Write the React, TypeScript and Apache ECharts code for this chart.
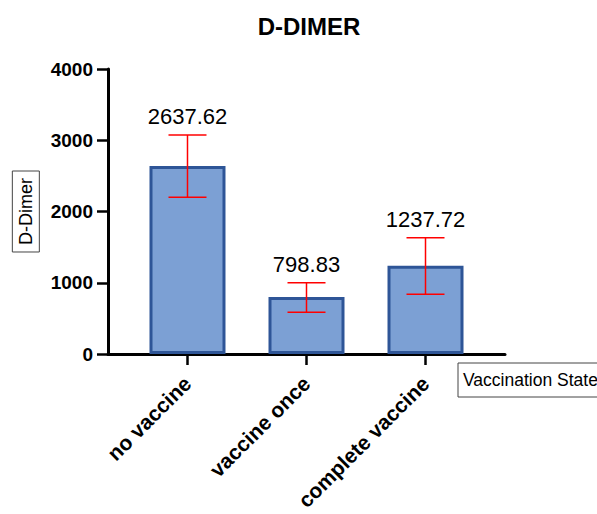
import React, { useEffect, useRef } from "react";
import * as echarts from "echarts";

const categories = ["no vaccine", "vaccine once", "complete vaccine"];
const means = [2637.62, 798.83, 1237.72];
const errLow = [2199, 585, 838];
const errHigh = [3074, 1001, 1632];
const meanLabels = ["2637.62", "798.83", "1237.72"];
const yTicks = { min: 0, max: 4000, interval: 1000 };

const FONT = "'Liberation Sans', Arial, sans-serif";

export default function App() {
  const ref = useRef<HTMLDivElement>(null);
  useEffect(() => {
    if (!ref.current) return;
    document.body.style.margin = "0";
    const chart = echarts.init(ref.current, null, { renderer: "svg" });
    const barData = means.map((m, i) => [i, m]);
    const errData = means.map((m, i) => [i, errLow[i], errHigh[i], m]);
    chart.setOption({
      animation: false,
      textStyle: { fontFamily: FONT },
      title: {
        text: "D-DIMER",
        left: 304,
        top: 9,
        textAlign: "center",
        textStyle: { fontSize: 24, fontWeight: "bold", color: "#000", fontFamily: FONT },
      },
      grid: { left: 108, right: 92, top: 69, bottom: 160, containLabel: false },
      xAxis: {
        type: "value",
        min: -0.668,
        max: 2.668,
        splitLine: { show: false },
        axisLine: { show: true, onZero: false, lineStyle: { color: "#000", width: 3 } },
        axisTick: { show: true, customValues: [0, 1, 2], length: 11, lineStyle: { color: "#000", width: 2.5 } },
        axisLabel: {
          customValues: [0, 1, 2],
          formatter: (v: number) => categories[Math.round(v)] ?? "",
          rotate: 45,
          margin: 26,
          fontSize: 21,
          fontWeight: "bold",
          color: "#000",
          fontFamily: FONT,
        },
      },
      yAxis: {
        type: "value",
        min: yTicks.min,
        max: yTicks.max,
        interval: yTicks.interval,
        name: "D-Dimer",
        nameLocation: "middle",
        nameRotate: 90,
        nameGap: 65,
        nameTextStyle: {
          fontSize: 18,
          color: "#000",
          fontFamily: FONT,
          borderColor: "#444",
          borderWidth: 1,
          padding: [5, 7, 4, 7],
        },
        splitLine: { show: false },
        axisLine: { show: true, onZero: false, lineStyle: { color: "#000", width: 3 } },
        axisTick: { show: true, length: 11, lineStyle: { color: "#000", width: 2.5 } },
        axisLabel: {
          margin: 15,
          fontSize: 19,
          fontWeight: "bold",
          color: "#000",
          fontFamily: FONT,
          formatter: (v: number) => String(v),
        },
      },
      graphic: [
        {
          type: "group",
          children: [
            {
              type: "rect",
              shape: { x: 458, y: 363, width: 160, height: 34 },
              style: { fill: "#fff", stroke: "#444", lineWidth: 1 },
            },
            {
              type: "text",
              x: 463,
              y: 380,
              style: {
                text: "Vaccination State",
                fontSize: 17.5,
                fontFamily: FONT,
                fill: "#000",
                verticalAlign: "middle",
                align: "left",
              },
            },
          ],
        },
      ],
      series: [
        {
          type: "bar",
          data: barData,
          barWidth: 76,
          itemStyle: { color: "#7CA0D4", borderColor: "#2E5597", borderWidth: 3 },
          z: 2,
        },
        {
          type: "custom",
          data: errData,
          z: 5,
          renderItem: (params: any, api: any) => {
            const x = api.value(0);
            const lo = api.coord([x, api.value(1)]);
            const hi = api.coord([x, api.value(2)]);
            const half = 19;
            const st = { stroke: "#FF0000", lineWidth: 1.5 };
            return {
              type: "group",
              children: [
                { type: "line", shape: { x1: hi[0], y1: hi[1], x2: lo[0], y2: lo[1] }, style: st },
                { type: "line", shape: { x1: hi[0] - half, y1: hi[1], x2: hi[0] + half, y2: hi[1] }, style: st },
                { type: "line", shape: { x1: lo[0] - half, y1: lo[1], x2: lo[0] + half, y2: lo[1] }, style: st },
                {
                  type: "text",
                  x: hi[0],
                  y: hi[1] - 18,
                  style: {
                    text: meanLabels[params.dataIndex],
                    fontSize: 22,
                    fontFamily: FONT,
                    fill: "#000",
                    align: "center",
                    verticalAlign: "middle",
                  },
                },
              ],
            };
          },
        },
      ],
    });
    return () => chart.dispose();
  }, []);
  return <div ref={ref} style={{ width: 597, height: 514 }} />;
}
